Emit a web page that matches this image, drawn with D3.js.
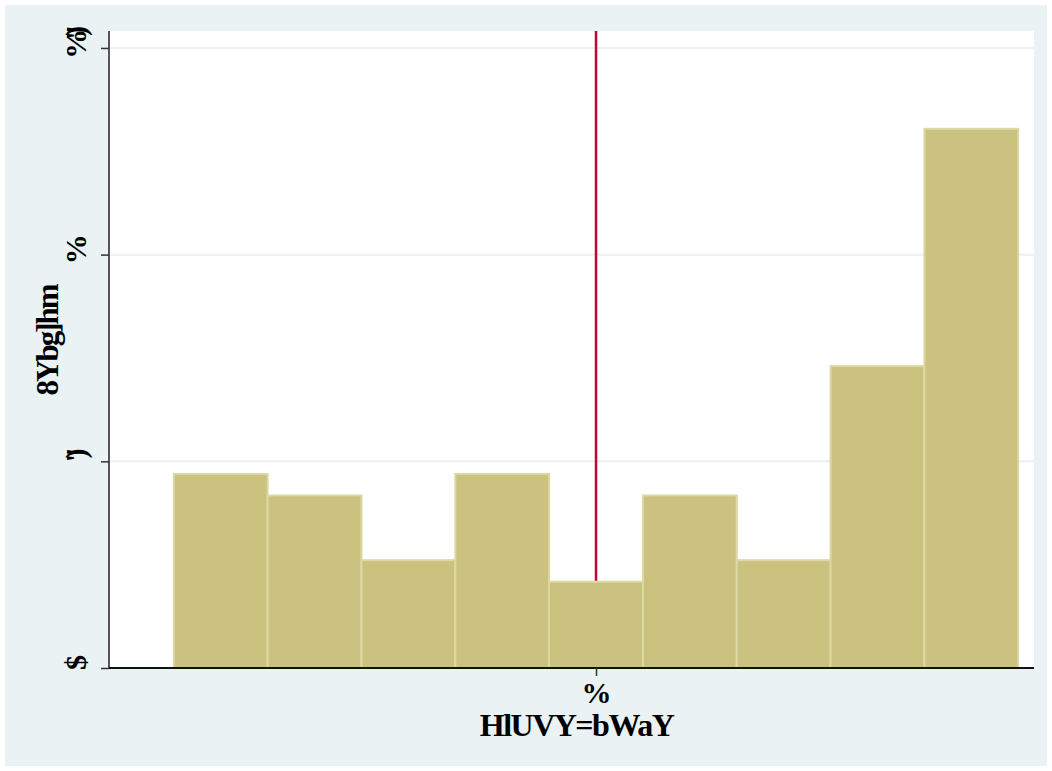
<!DOCTYPE html>
<html>
<head>
<meta charset="utf-8">
<script src="https://cdn.jsdelivr.net/npm/d3@7"></script>
<style>
body { margin: 0; background: #ffffff; }
text { font-family: "Liberation Serif", "DejaVu Serif", serif; font-weight: bold; fill: #000; }
</style>
</head>
<body>
<div id="chart"></div>
<script>
// histogram data (density)
var binEdges = [0.01, 0.23, 0.45, 0.67, 0.89, 1.11, 1.33, 1.55, 1.77, 1.99];
var densities = [0.4695, 0.4174, 0.2609, 0.4695, 0.2087, 0.4174, 0.2609, 0.7304, 1.3043];

var yTicks = [0, 0.5, 1, 1.5];
var yTickLabels = ["$", "\")", "%", "%\")"];
var xTicks = [1];
var xTickLabels = ["%"];
var xLineAt = 1;

var yTitle = "8Ybg]hm";
var xTitle = "HlUVY=bWaY";

var W = 1052, H = 771;
var margin = {top: 31, left: 109, right: 18, bot: 103};
var pw = W - margin.left - margin.right,
    ph = H - margin.top - margin.bot;

var svg = d3.select("#chart").append("svg")
    .attr("width", W)
    .attr("height", H);

// graph region background
svg.append("rect")
    .attr("x", 5).attr("y", 5)
    .attr("width", W - 10).attr("height", H - 10)
    .attr("fill", "#eaf2f3");

var g = svg.append("g")
    .attr("transform", "translate(" + margin.left + "," + margin.top + ")");

var x = d3.scaleLinear().domain([-0.142, 2.027]).range([0, pw]);
var y = d3.scaleLinear().domain([0, 1.541]).range([ph, 0]);

// plot region
g.append("rect")
    .attr("width", pw).attr("height", ph)
    .attr("fill", "#ffffff");

// grid
g.selectAll(".grid")
    .data(yTicks.filter(function(d) { return d > 0; }))
    .enter().append("line")
    .attr("class", "grid")
    .attr("x1", 0).attr("x2", pw)
    .attr("y1", function(d) { return y(d); })
    .attr("y2", function(d) { return y(d); })
    .attr("stroke", "#eaf2f3")
    .attr("stroke-width", 2);

// reference line (behind the bars)
g.append("line")
    .attr("x1", x(xLineAt)).attr("x2", x(xLineAt))
    .attr("y1", 0).attr("y2", ph)
    .attr("stroke", "#c10534")
    .attr("stroke-width", 2.5);

// bars
var bins = densities.map(function(d, i) {
    return {x0: binEdges[i], x1: binEdges[i + 1], v: d};
});
g.selectAll(".bar")
    .data(bins)
    .enter().append("rect")
    .attr("class", "bar")
    .attr("x", function(d) { return x(d.x0); })
    .attr("width", function(d) { return x(d.x1) - x(d.x0); })
    .attr("y", function(d) { return y(d.v); })
    .attr("height", function(d) { return y(0) - y(d.v); })
    .attr("fill", "#cac27e")
    .attr("stroke", "#ddd8a4")
    .attr("stroke-width", 2);

// y axis
var yAxis = d3.axisLeft(y)
    .tickValues(yTicks)
    .tickSize(8)
    .tickPadding(14)
    .tickFormat(function(d, i) { return yTickLabels[i]; });
var ya = g.append("g").call(yAxis);
ya.select(".domain").attr("stroke", "#555").attr("stroke-width", 2)
    .attr("d", "M0," + ph + "V0");
ya.selectAll(".tick line").attr("stroke", "#333").attr("stroke-width", 1.5);
ya.selectAll(".tick text")
    .style("font-size", "30px")
    .style("letter-spacing", "-12px")
    .attr("text-anchor", "middle")
    .attr("transform", "rotate(-90)")
    .attr("x", 0)
    .attr("y", -34)
    .attr("dy", "0.35em");

// x axis
var xAxis = d3.axisBottom(x)
    .tickValues(xTicks)
    .tickSize(8)
    .tickPadding(6)
    .tickFormat(function(d, i) { return xTickLabels[i]; });
var xa = g.append("g")
    .attr("transform", "translate(0," + ph + ")")
    .call(xAxis);
xa.select(".domain").attr("stroke", "#111").attr("stroke-width", 2)
    .attr("d", "M0,0H" + pw);
xa.selectAll(".tick line").attr("stroke", "#333").attr("stroke-width", 1.5);
xa.selectAll(".tick text").style("font-size", "30px");

// titles
g.append("text")
    .attr("transform", "translate(-62," + (ph / 2 - 9) + ") rotate(-90)")
    .attr("text-anchor", "middle")
    .attr("dy", "0.35em")
    .style("font-size", "31px")
    .style("letter-spacing", "-2px")
    .text(yTitle);

g.append("text")
    .attr("x", pw / 2 + 5)
    .attr("y", ph + 68)
    .attr("text-anchor", "middle")
    .style("font-size", "32px")
    .style("letter-spacing", "-1.5px")
    .text(xTitle);
</script>
</body>
</html>
